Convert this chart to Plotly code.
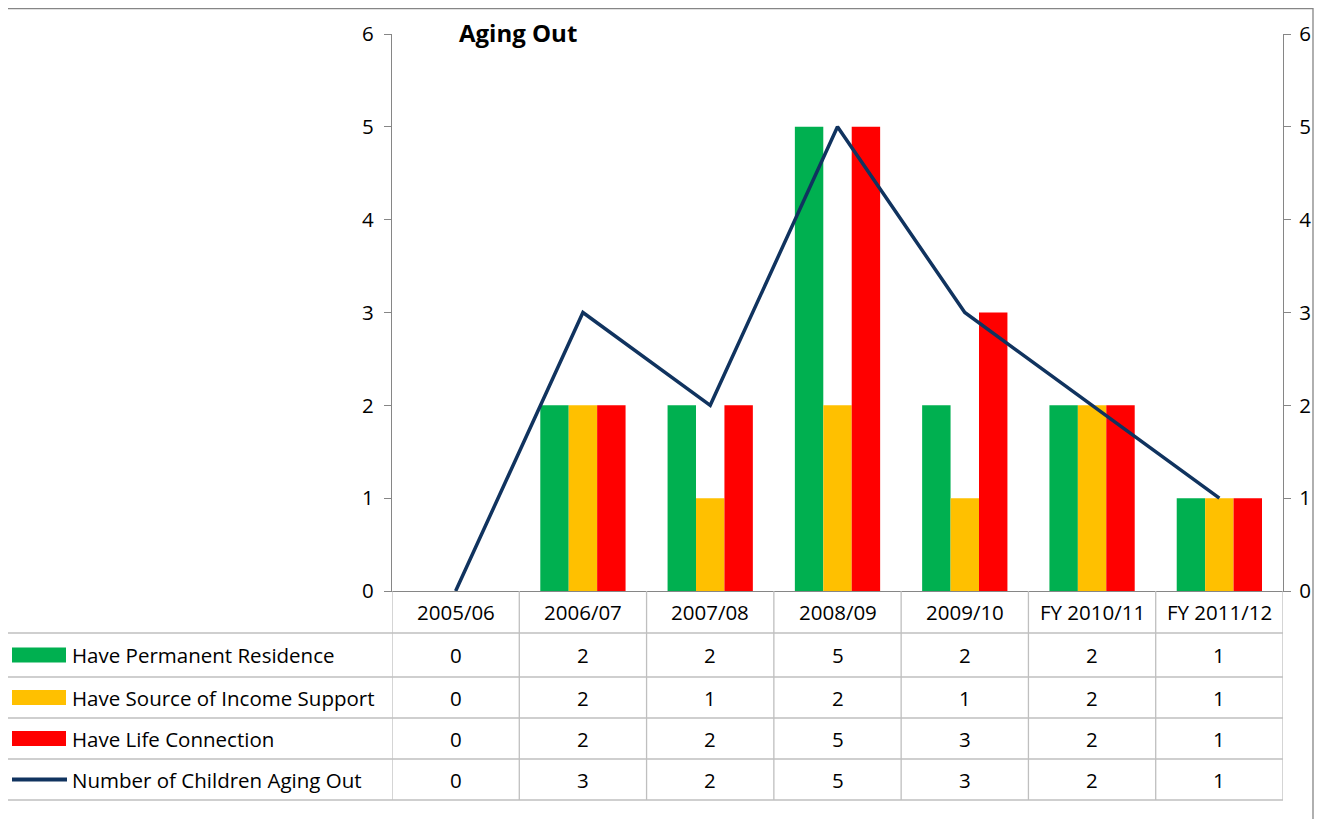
import plotly.graph_objects as go

categories = ["2005/06", "2006/07", "2007/08", "2008/09", "2009/10", "FY 2010/11", "FY 2011/12"]
permanent_residence = [0, 2, 2, 5, 2, 2, 1]
income_support = [0, 2, 1, 2, 1, 2, 1]
life_connection = [0, 2, 2, 5, 3, 2, 1]
aging_out = [0, 3, 2, 5, 3, 2, 1]

series = [
    ("Have Permanent Residence", permanent_residence, "#00B050"),
    ("Have Source of Income Support", income_support, "#FFC000"),
    ("Have Life Connection", life_connection, "#FF0000"),
]
line_name = "Number of Children Aging Out"
line_color = "#10335F"

W, H = 1322, 819
OFF = 8  # page body margin
FONT = "Open Sans"
FS = 20.5
GRID = "#BFBFBF"
AXIS = "#868686"


def px(p):
    return (p - OFF) / W


def py(p):
    return 1 - (p - OFF) / H


fig = go.Figure()
for name, vals, color in series:
    fig.add_trace(go.Bar(x=categories, y=vals, name=name, marker_color=color,
                         marker_line_width=0))
fig.add_trace(go.Scatter(x=categories, y=aging_out, name=line_name, mode="lines",
                         line=dict(color=line_color, width=3.5), yaxis="y2"))

shapes = []
annotations = []

# outer chart border
shapes.append(dict(type="path", xref="paper", yref="paper",
                   path=f"M {px(6.5)},{py(830)} L {px(6.5)},{py(8.7)} L {px(1313)},{py(8.7)} L {px(1313)},{py(830)}",
                   line=dict(color=AXIS, width=1.3)))

# data table: header row and the value rows
row_edges = [591, 633, 677, 718, 759, 800]
n = len(categories)
for i in range(n + 1):
    shapes.append(dict(type="line", xref="x", yref="paper", x0=i - 0.5, x1=i - 0.5,
                       y0=py(591), y1=py(800), line=dict(color=GRID, width=1.3)))
for e in row_edges[1:]:
    shapes.append(dict(type="line", xref="paper", yref="paper", x0=px(6), x1=px(1283),
                       y0=py(e), y1=py(e), line=dict(color=GRID, width=1.3)))

txt = dict(size=FS, color="black", family=FONT)
for j, c in enumerate(categories):
    annotations.append(dict(x=j, y=py((row_edges[0] + row_edges[1]) / 2), xref="x", yref="paper",
                            text=c, showarrow=False, yanchor="middle", font=txt))

rows = [(name, vals, color, "bar") for name, vals, color in series] + \
       [(line_name, aging_out, line_color, "line")]
for r, (name, vals, color, kind) in enumerate(rows):
    yc = py((row_edges[r + 1] + row_edges[r + 2]) / 2)
    for j, v in enumerate(vals):
        annotations.append(dict(x=j, y=yc, xref="x", yref="paper", text=str(v), showarrow=False,
                                yanchor="middle", font=txt))
    annotations.append(dict(x=px(70), y=yc, xref="paper", yref="paper", text=name, showarrow=False,
                            xanchor="left", yanchor="middle", font=txt))
    if kind == "bar":
        shapes.append(dict(type="rect", xref="paper", yref="paper", x0=px(12), x1=px(66),
                           y0=yc - 7.5 / H, y1=yc + 7.5 / H, fillcolor=color, line_width=0))
    else:
        shapes.append(dict(type="line", xref="paper", yref="paper", x0=px(12), x1=px(67),
                           y0=yc, y1=yc, line=dict(color=color, width=4)))

annotations.append(dict(x=px(457), y=py(32), xref="paper", yref="paper", text="<b>Aging Out</b>",
                        showarrow=False, xanchor="left", yanchor="middle",
                        font=dict(size=24, color="black", family=FONT)))

axis_common = dict(range=[0, 6], tickvals=[0, 1, 2, 3, 4, 5, 6], showgrid=False, zeroline=False,
                   showline=True, linecolor=AXIS, linewidth=1.3, ticks="outside", ticklen=7,
                   tickcolor=AXIS, tickfont=txt, automargin=False,
                   domain=[py(591), py(34)])

fig.update_layout(
    width=W, height=H,
    margin=dict(l=0, r=0, t=0, b=0, autoexpand=False),
    paper_bgcolor="white", plot_bgcolor="white",
    showlegend=False,
    barmode="group", bargap=0.33, bargroupgap=0,
    font=dict(family=FONT),
    xaxis=dict(domain=[px(392), px(1283)], showticklabels=False, showline=True, linecolor=AXIS,
               linewidth=1.3, ticks="", showgrid=False, range=[-0.5, n - 0.5], automargin=False),
    yaxis=dict(**axis_common, ticklabelstandoff=6),
    yaxis2=dict(**axis_common, overlaying="y", side="right", anchor="x", ticklabelstandoff=4),
    shapes=shapes,
    annotations=annotations,
)

fig.write_html("out.html")
